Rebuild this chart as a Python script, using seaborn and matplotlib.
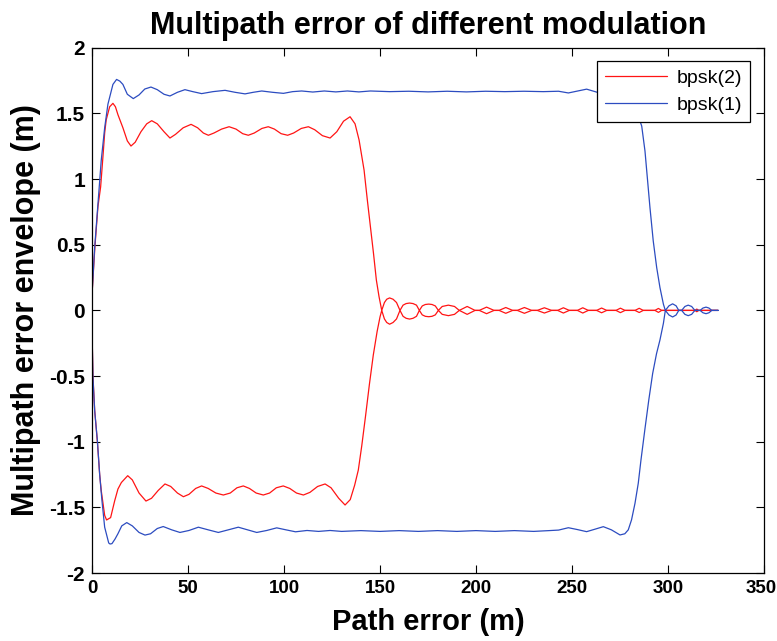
import matplotlib
matplotlib.use("Agg")
import matplotlib.pyplot as plt
from matplotlib.transforms import ScaledTranslation
import numpy as np
import pandas as pd
import seaborn as sns

# ---- multipath error envelopes (path error in m, envelope in m) ----
# BPSK(2): upper (in-phase) branch
bpsk2_up_x = [0, 1.5, 3.1, 4.5, 5.7, 6.6, 7.4, 9.2, 10.9, 12.2, 13.5, 16.1, 18.4, 20.3,
              22.5, 25.5, 28.5, 31.1, 34, 37.5, 40.6, 43.5, 47.5, 51.6, 55, 58, 60.6,
              63.5, 67.5, 71.4, 75, 78.5, 81.4, 84.5, 88.5, 91.8, 95, 98.5, 101.9, 105,
              109, 112.7, 116, 120, 124, 127.5, 131, 134.4, 137, 139.1, 141.7, 143.4,
              145.2, 146.6, 148.1, 149.5, 150.9, 152.3, 153.5, 155, 156.8, 158.6, 160.4,
              162, 163.6, 165.4, 167.2, 169, 170.5, 172, 173.6, 175.4, 177.1, 178.8,
              180.4, 182.4, 185.6, 188.8, 191.3, 195.4, 199.5, 201.7, 205.5, 209.4, 212,
              215.5, 219.1, 221.5, 225.2, 229, 231.9, 235.6, 239.4, 242.5, 245.5, 248.6,
              252.8, 255.6, 258.5, 262.8, 265.4, 268.1, 272.9, 275.2, 277.6, 282.8, 285,
              287.1, 293.2, 295, 296.7, 314, 315, 316, 326]
bpsk2_up_y = [0.12, 0.48, 0.79, 0.94, 1.17, 1.35, 1.45, 1.55, 1.576, 1.55, 1.49, 1.39, 1.29,
              1.251, 1.28, 1.36, 1.42, 1.444, 1.42, 1.36, 1.312, 1.34, 1.39, 1.416, 1.39,
              1.35, 1.333, 1.35, 1.38, 1.398, 1.38, 1.345, 1.333, 1.35, 1.385, 1.398, 1.38,
              1.345, 1.333, 1.35, 1.385, 1.398, 1.375, 1.33, 1.312, 1.36, 1.44, 1.474, 1.42,
              1.297, 1.068, 0.84, 0.612, 0.435, 0.231, 0.104, 0.0, 0.06, 0.085, 0.095,
              0.085, 0.06, 0.0, 0.04, 0.052, 0.056, 0.052, 0.04, 0.0, 0.034, 0.045, 0.048,
              0.045, 0.034, 0.0, 0.03, 0.04, 0.03, 0.0, 0.03, 0.0, 0.0, 0.025, 0.0, 0.0,
              0.022, 0.0, 0.0, 0.022, 0.0, 0.0, 0.02, 0.0, 0.0, 0.02, 0.0, 0.0, 0.02, 0.0,
              0.0, 0.018, 0.0, 0.0, 0.017, 0.0, 0.0, 0.016, 0.0, 0.0, 0.015, 0.0, 0.0,
              0.01, 0.0, 0.0]

# BPSK(2): lower (anti-phase) branch
bpsk2_lo_x = [0, 0.5, 1.4, 2.8, 4, 4.8, 6.6, 7.6, 9.7, 11.8, 13.5, 15.3, 18.6, 21, 24.5,
              28.1, 31, 34.5, 38, 41, 44.5, 47.6, 50.5, 54, 57.1, 60.5, 64.5, 68.4, 72,
              75.5, 78.8, 82, 85.5, 89.2, 92.5, 96, 99.6, 103, 106.5, 110.1, 113.5, 117.5,
              121.4, 124.5, 128.5, 131.8, 134.5, 136.8, 138.7, 140.5, 142.5, 144.5, 146.5,
              148.5, 150, 150.9, 152.3, 153.5, 155, 156.8, 158.6, 160.4, 162, 163.6, 165.4,
              167.2, 169, 170.5, 172, 173.6, 175.4, 177.1, 178.8, 180.4, 182.4, 185.6,
              188.8, 191.3, 195.4, 199.5, 201.7, 205.5, 209.4, 212, 215.5, 219.1, 221.5,
              225.2, 229, 231.9, 235.6, 239.4, 242.5, 245.5, 248.6, 252.8, 255.6, 258.5,
              262.8, 265.4, 268.1, 272.9, 275.2, 277.6, 282.8, 285, 287.1, 293.2, 295,
              296.7, 314, 315, 316, 326]
bpsk2_lo_y = [-0.15, -0.5, -0.76, -1.0, -1.25, -1.37, -1.56, -1.595, -1.577, -1.45, -1.36,
              -1.31, -1.258, -1.29, -1.39, -1.451, -1.43, -1.37, -1.321, -1.34, -1.39,
              -1.418, -1.4, -1.355, -1.336, -1.355, -1.39, -1.405, -1.39, -1.35, -1.336,
              -1.355, -1.39, -1.405, -1.39, -1.35, -1.336, -1.355, -1.39, -1.405, -1.385,
              -1.34, -1.321, -1.35, -1.43, -1.481, -1.44, -1.33, -1.215, -1.03, -0.8,
              -0.56, -0.34, -0.16, -0.05, 0.0, -0.065, -0.092, -0.105, -0.092, -0.065,
              0.0, -0.045, -0.06, -0.066, -0.06, -0.045, 0.0, -0.034, -0.045, -0.048,
              -0.045, -0.034, 0.0, -0.03, -0.04, -0.03, 0.0, -0.03, 0.0, 0.0, -0.025, 0.0,
              0.0, -0.022, 0.0, 0.0, -0.022, 0.0, 0.0, -0.02, 0.0, 0.0, -0.02, 0.0, 0.0,
              -0.02, 0.0, 0.0, -0.018, 0.0, 0.0, -0.017, 0.0, 0.0, -0.016, 0.0, 0.0,
              -0.015, 0.0, 0.0, -0.01, 0.0, 0.0]

# BPSK(1): upper branch
bpsk1_up_x = [0, 1.4, 3.1, 4.8, 6.6, 8.3, 10.9, 12.8, 14.5, 16.1, 18.4, 21.5, 24.5, 27.5,
              30.7, 34, 37.5, 40.6, 44.5, 48.4, 52.5, 57.1, 63, 69.3, 74.5, 79.7, 84,
              88.4, 94, 99.7, 104.5, 109.2, 115, 121, 127, 133, 139, 145, 155, 165, 175,
              185, 195, 205, 215, 225, 235, 243, 248.1, 253, 257.6, 262, 266.3, 270.5,
              275, 278.5, 281.5, 284, 286.3, 288, 290.6, 292.3, 294.1, 295.8, 297.6,
              298.6, 300.5, 302.4, 304.2, 305.6, 307.1, 308.8, 310.5, 312.3, 314, 316.7,
              318.2, 319.8, 321.3, 322.8, 326.2]
bpsk1_up_y = [0.12, 0.48, 0.81, 1.14, 1.39, 1.57, 1.72, 1.758, 1.745, 1.72, 1.645, 1.612,
              1.64, 1.685, 1.7, 1.68, 1.645, 1.632, 1.66, 1.68, 1.665, 1.65, 1.665, 1.675,
              1.66, 1.648, 1.66, 1.67, 1.66, 1.652, 1.665, 1.67, 1.662, 1.67, 1.663, 1.67,
              1.663, 1.67, 1.665, 1.668, 1.663, 1.668, 1.663, 1.668, 1.665, 1.668, 1.665,
              1.668, 1.655, 1.67, 1.684, 1.665, 1.646, 1.67, 1.71, 1.69, 1.6, 1.5, 1.403,
              1.213, 0.782, 0.529, 0.326, 0.174, 0.047, 0.0, 0.035, 0.05, 0.035, 0.0,
              0.0, 0.03, 0.04, 0.03, 0.0, 0.0, 0.018, 0.025, 0.018, 0.0, 0.0]

# BPSK(1): lower branch
bpsk1_lo_x = [0, 0.5, 1.4, 2.8, 4, 5.2, 6.6, 8.7, 9.4, 10.4, 12, 13.5, 15.5, 18.1, 21,
              24.5, 27.6, 30.5, 34, 37.1, 41.5, 45.8, 50.5, 55.4, 60.5, 65.8, 71, 76.2,
              81, 85.8, 91, 96.2, 101, 106, 112, 118, 124, 130, 140, 150, 160, 170, 180,
              190, 200, 210, 220, 230, 238, 243, 248.1, 252.8, 257.6, 262, 266.3, 270.5,
              275, 277.5, 279.3, 281, 282.8, 284.5, 285.9, 288, 290, 292, 294, 295.8,
              297.6, 298.6, 300.5, 302.4, 304.2, 305.6, 307.1, 308.8, 310.5, 312.3, 314,
              316.7, 318.2, 319.8, 321.3, 322.8, 326.2]
bpsk1_lo_y = [-0.15, -0.51, -0.765, -0.99, -1.25, -1.45, -1.65, -1.77, -1.778, -1.775,
              -1.74, -1.7, -1.64, -1.615, -1.64, -1.69, -1.71, -1.7, -1.66, -1.645, -1.67,
              -1.69, -1.675, -1.65, -1.67, -1.69, -1.67, -1.65, -1.67, -1.69, -1.675,
              -1.655, -1.67, -1.685, -1.675, -1.682, -1.675, -1.682, -1.676, -1.682,
              -1.676, -1.682, -1.676, -1.682, -1.676, -1.682, -1.676, -1.682, -1.676,
              -1.672, -1.654, -1.668, -1.684, -1.665, -1.646, -1.67, -1.709, -1.7, -1.67,
              -1.594, -1.468, -1.316, -1.14, -0.9, -0.68, -0.48, -0.33, -0.225, -0.098,
              0.0, -0.035, -0.05, -0.035, 0.0, 0.0, -0.03, -0.04, -0.03, 0.0, 0.0, -0.018,
              -0.025, -0.018, 0.0, 0.0]

modulations = ["bpsk(2)", "bpsk(1)"]
x_ticks = [0, 50, 100, 150, 200, 250, 300, 350]
y_ticks = [-2, -1.5, -1, -0.5, 0, 0.5, 1, 1.5, 2]
y_tick_labels = ["-2", "-1.5", "-1", "-0.5", "0", "0.5", "1", "1.5", "2"]

branches = [
    ("bpsk(2)", "bpsk2 upper", bpsk2_up_x, bpsk2_up_y),
    ("bpsk(2)", "bpsk2 lower", bpsk2_lo_x, bpsk2_lo_y),
    ("bpsk(1)", "bpsk1 upper", bpsk1_up_x, bpsk1_up_y),
    ("bpsk(1)", "bpsk1 lower", bpsk1_lo_x, bpsk1_lo_y),
]
df = pd.concat(
    [pd.DataFrame({"path": xs, "env": ys, "modulation": m, "branch": b})
     for m, b, xs, ys in branches],
    ignore_index=True,
)

sns.set_style("ticks")
plt.rcParams["font.family"] = ["Liberation Sans", "DejaVu Sans"]
plt.rcParams["text.color"] = "black"
plt.rcParams["axes.labelcolor"] = "black"

fig = plt.figure(figsize=(7.77, 6.41), dpi=100)
ax = fig.add_axes([0.1184, 0.1058, 0.8649, 0.8199])

palette = {"bpsk(2)": "#ff1414", "bpsk(1)": "#2c4cc0"}
sns.lineplot(data=df, x="path", y="env", hue="modulation", hue_order=modulations,
             units="branch", estimator=None, sort=False, palette=palette,
             linewidth=0.9, ax=ax)

ax.set_xlim(0, 350)
ax.set_ylim(-2, 2)
ax.set_xticks(x_ticks)
ax.set_xticklabels([str(t) for t in x_ticks])
ax.set_yticks(y_ticks)
ax.set_yticklabels(y_tick_labels)
ax.tick_params(direction="in", length=6, width=0.8, top=True, right=True,
               pad=5, colors="black")
for lab in ax.get_xticklabels():
    lab.set_fontweight("bold")
    lab.set_fontsize(13.5)
for lab in ax.get_yticklabels():
    lab.set_fontweight("bold")
    lab.set_fontsize(15)
# keep the last x label inside the canvas
last = ax.get_xticklabels()[-1]
last.set_transform(last.get_transform() + ScaledTranslation(-3 / 100, 0, fig.dpi_scale_trans))

for sp in ax.spines.values():
    sp.set_visible(True)
    sp.set_color("black")
    sp.set_linewidth(0.9)

ax.set_title("Multipath error of different modulation", fontsize=22,
             fontweight="bold", pad=10, color="black")
ax.set_xlabel("Path error (m)", fontsize=21, fontweight="bold", labelpad=8)
ax.set_ylabel("Multipath error envelope (m)", fontsize=22, fontweight="bold",
              labelpad=6)

leg = ax.legend(loc="upper right", fontsize=14, frameon=True, fancybox=False,
                edgecolor="black", framealpha=1, handlelength=3.2,
                handletextpad=0.5, labelspacing=0.5, borderaxespad=0.7)
leg.get_frame().set_linewidth(0.9)
leg.set_title(None)
for t in leg.get_texts():
    t.set_color("black")

fig.savefig("out.png", dpi=100)
